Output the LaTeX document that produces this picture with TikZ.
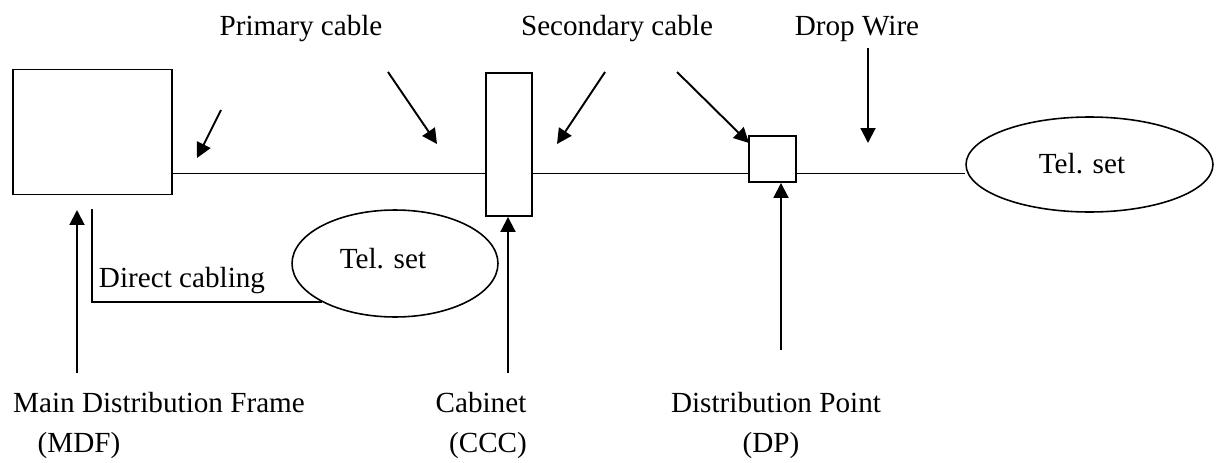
\documentclass[tikz,border=0pt]{standalone}
\usepackage{fontspec}
\setmainfont{Liberation Serif}
\usetikzlibrary{shapes.geometric, arrows.meta}
\begin{document}
\begin{tikzpicture}[x=0.02cm, y=-0.02cm, line width=1.1pt,
        >={Triangle[length=0.3cm, width=0.3cm]},
        box/.style={draw, rectangle, inner sep=0pt},
        telset/.style={draw, ellipse, inner sep=0pt, line width=0.9pt},
        lbl/.style={anchor=base, inner sep=0pt, font=\fontsize{16.6}{20}\selectfont}]
        \useasboundingbox (0,0) rectangle (1217,463);

        \node[box, minimum width=3.18cm, minimum height=2.5cm] (mdf) at (92.5,132) {};
        \node[box, minimum width=0.92cm, minimum height=2.86cm] (cab) at (509,144.5) {};
        \node[box, minimum width=0.94cm, minimum height=0.92cm] (dp) at (772.5,159) {};
        \node[telset, minimum width=4.12cm, minimum height=2.14cm] (tel_a) at (395,263.5) {};
        \node[telset, minimum width=4.94cm, minimum height=1.9cm] (tel_b) at (1089.5,164.5) {};
        \node[lbl] (tel_a_txt) at (383,268) {Tel. set};
        \node[lbl] (tel_b_txt) at (1082,173) {Tel. set};

        % main cable run
        \coordinate (trunk) at (0,173.5);
        \draw (mdf.east |- trunk) -- (cab.west |- trunk);
        \draw (cab.east |- trunk) -- (dp.west |- trunk);
        \draw (dp.east |- trunk) -- (tel_b.west |- trunk);

        % direct cabling
        \coordinate (dc_top) at (92,209);
        \draw (dc_top) |- (tel_a.south west);

        % labels above
        \node[lbl] (prim) at (301,35) {Primary cable};
        \node[lbl] (sec) at (617,35) {Secondary cable};
        \node[lbl] (drop) at (857,35) {Drop Wire};
        \node[lbl] (direct) at (182,287) {Direct cabling};

        \coordinate (ex_tail) at (221,110);
        \coordinate (ex_tip) at (197,158);
        \coordinate (prim_tail) at (388,72);
        \coordinate (prim_tip) at (437,144);
        \coordinate (sec1_tail) at (605,72);
        \coordinate (sec1_tip) at (557,144);
        \coordinate (sec2_tail) at (677,72);
        \coordinate (sec2_tip) at (749,143);
        \coordinate (drop_tail) at (868,48);
        \coordinate (drop_tip) at (868,143);
        \draw[->] (ex_tail) -- (ex_tip);
        \draw[->] (prim_tail) -- (prim_tip);
        \draw[->] (sec1_tail) -- (sec1_tip);
        \draw[->] (sec2_tail) -- (sec2_tip);
        \draw[->] (drop_tail) -- (drop_tip);

        % labels below
        \node[lbl] (mdf_name) at (159,412) {Main Distribution Frame};
        \node[lbl] (mdf_abbr) at (79,452) {(MDF)};
        \node[lbl] (cab_name) at (481,412) {Cabinet};
        \node[lbl] (cab_abbr) at (488,452) {(CCC)};
        \node[lbl] (dp_name) at (776,412) {Distribution Point};
        \node[lbl] (dp_abbr) at (771,452) {(DP)};

        \coordinate (mdf_tail) at (77,373);
        \coordinate (cab_tail) at (508,373);
        \coordinate (dp_tail) at (781,350);
        \draw[->] (mdf_tail) -- (mdf_tail |- 0,210);
        \draw[->] (cab_tail) -- (cab_tail |- cab.south);
        \draw[->] (dp_tail) -- (dp_tail |- dp.south);

    \end{tikzpicture}
\end{document}
